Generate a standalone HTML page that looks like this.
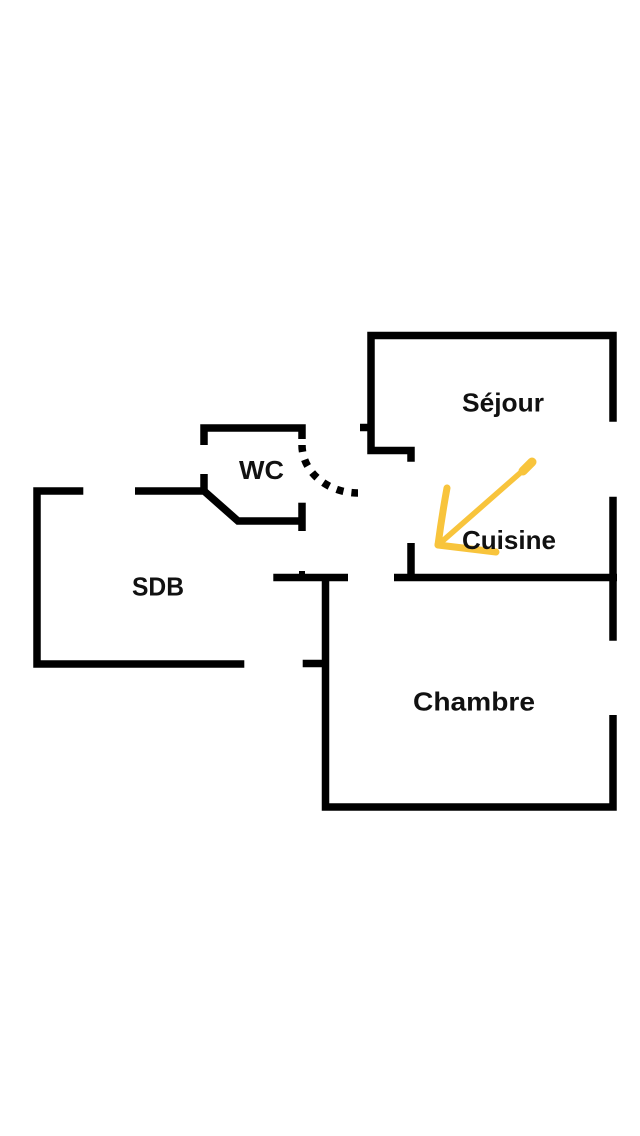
<!DOCTYPE html>
<html>
<head>
<meta charset="utf-8">
<style>
  html, body { margin: 0; padding: 0; background: #fff; }
  body { width: 640px; height: 1136px; overflow: hidden; }
  svg { display: block; }
  text { font-family: "Liberation Sans", "DejaVu Sans", sans-serif; font-weight: bold; font-size: 26px; fill: #111; }
</style>
</head>
<body>
<svg width="640" height="1136" viewBox="0 0 640 1136" xmlns="http://www.w3.org/2000/svg">
  <rect width="640" height="1136" fill="#fff"/>
  <g fill="none" stroke="#000" stroke-width="7.5" stroke-linecap="butt" stroke-linejoin="miter">
    <!-- Séjour -->
    <polyline points="613,421.7 613,335.5 371,335.5 371,450.5 411,450.5 411,461.7"/>
    <line x1="360" y1="427.5" x2="371" y2="427.5"/>
    <!-- right wall lower segment -->
    <line x1="613" y1="496.7" x2="613" y2="640.7"/>
    <!-- Cuisine bottom wall + tick -->
    <line x1="394" y1="577.5" x2="617" y2="577.5"/>
    <line x1="411" y1="543" x2="411" y2="577.5"/>
    <!-- Chambre -->
    <polyline points="613,715 613,807 325.5,807 325.5,577.5"/>
    <line x1="273.3" y1="577.5" x2="348" y2="577.5"/>
    <line x1="302.7" y1="663.5" x2="325.5" y2="663.5"/>
    <!-- SDB -->
    <polyline points="83.3,491 37,491 37,664 244.3,664"/>
    <polyline points="135,491 204,491 238,521 302,521"/>
    <line x1="302" y1="502.7" x2="302" y2="531"/>
    <line x1="204" y1="474" x2="204" y2="491"/>
    <!-- WC -->
    <polyline points="204,445 204,428 302,428 302,439"/>
    <!-- door arc dotted -->
    <path d="M 302 445 A 56 48 0 0 0 358 493" stroke-dasharray="7 8"/>
  </g>
  <rect x="299" y="571" width="6" height="4" fill="#000"/>

  <!-- yellow arrow -->
  <g fill="none" stroke="#F8C43C" stroke-linecap="round" stroke-linejoin="round">
    <path d="M 532 462 L 523 471" stroke-width="9"/>
    <path d="M 527 467 L 438 545" stroke-width="5.5"/>
    <path d="M 447 488 Q 442 515 438 545" stroke-width="7"/>
    <path d="M 438 545 L 496 552" stroke-width="7"/>
  </g>

  <text x="239" y="479" textLength="45" lengthAdjust="spacingAndGlyphs">WC</text>
  <text x="462" y="411.5" textLength="82" lengthAdjust="spacingAndGlyphs">Séjour</text>
  <text x="132" y="595.5" textLength="52" lengthAdjust="spacingAndGlyphs">SDB</text>
  <text x="413" y="710.5" textLength="122" lengthAdjust="spacingAndGlyphs">Chambre</text>
  <text x="462" y="549" textLength="94" lengthAdjust="spacingAndGlyphs">Cuisine</text>
</svg>
</body>
</html>
